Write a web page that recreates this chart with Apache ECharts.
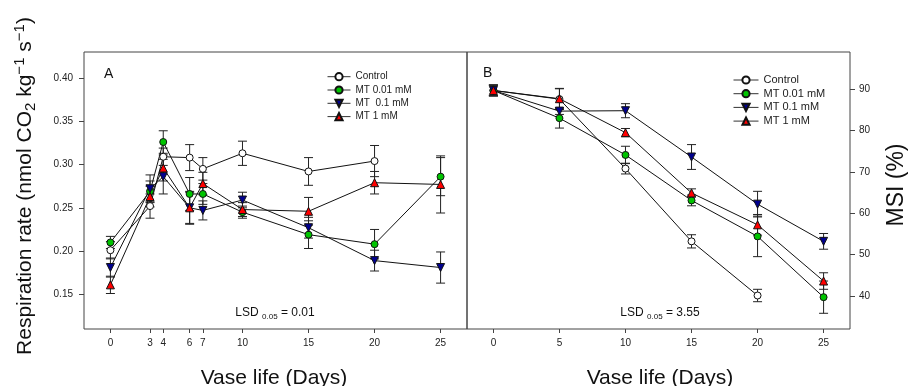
<!DOCTYPE html>
<html>
<head>
<meta charset="utf-8">
<script src="https://cdn.jsdelivr.net/npm/echarts@6/dist/echarts.min.js"></script>
<style>
  html, body { margin: 0; padding: 0; background: #fff; }
  #chart { width: 908px; height: 386px; }
</style>
</head>
<body>
<div id="chart"></div>
<script>
// panel A: respiration rate
const daysA = [0, 3, 4, 6, 7, 10, 15, 20, 25];
const controlA = [0.201, 0.252, 0.309, 0.308, 0.295, 0.313, 0.292, 0.304, null];
const controlAErr = [0.010, 0.014, 0.010, 0.015, 0.013, 0.014, 0.016, 0.018, null];
const mt001A = [0.210, 0.269, 0.326, 0.266, 0.266, 0.245, 0.219, 0.208, 0.286];
const mt001AErr = [0.007, 0.012, 0.013, 0.019, 0.012, 0.007, 0.016, 0.017, 0.022];
const mt01A = [0.181, 0.272, 0.286, 0.250, 0.247, 0.259, 0.227, 0.189, 0.181];
const mt01AErr = [0.011, 0.016, 0.020, 0.018, 0.011, 0.009, 0.012, 0.012, 0.018];
const mt1A = [0.161, 0.263, 0.296, 0.250, 0.278, 0.248, 0.246, 0.279, 0.277];
const mt1AErr = [0.010, 0.012, 0.015, 0.019, 0.013, 0.008, 0.016, 0.013, 0.033];
const ticksXA = [0, 3, 4, 6, 7, 10, 15, 20, 25];
const ticksYA = [0.15, 0.20, 0.25, 0.30, 0.35, 0.40];

// panel B: membrane stability index
const daysB = [0, 5, 10, 15, 20, 25];
const controlB = [89.7, 87.6, 70.8, 53.2, 40.1, null];
const controlBErr = [1.3, 2.5, 1.3, 1.6, 1.5, null];
const mt001B = [89.7, 83.0, 74.1, 63.1, 54.4, 39.7];
const mt001BErr = [1.3, 2.4, 2.1, 1.3, 4.9, 3.9];
const mt01B = [89.7, 84.7, 84.8, 73.6, 62.2, 53.2];
const mt01BErr = [1.3, 0.8, 1.7, 3.0, 3.1, 1.9];
const mt1B = [89.7, 87.7, 79.5, 64.9, 57.2, 43.6];
const mt1BErr = [1.3, 2.5, 1.0, 1.0, 2.5, 2.0];
const ticksXB = [0, 5, 10, 15, 20, 25];
const ticksYB = [40, 50, 60, 70, 80, 90];

const namesA = ['Control', 'MT 0.01 mM', 'MT  0.1 mM', 'MT 1 mM'];
const namesB = ['Control', 'MT 0.01 mM', 'MT 0.1 mM', 'MT 1 mM'];

const FONT = '"Liberation Sans", Arial, sans-serif';
const styles = [
  { color: '#ffffff', symbol: 'circle', size: 7, rotate: 0 },
  { color: '#00c400', symbol: 'circle', size: 7, rotate: 0 },
  { color: '#00008f', symbol: 'triangle', size: 8, rotate: 180 },
  { color: '#ff0000', symbol: 'triangle', size: 8, rotate: 0 }
];

function pairs(xs, ys) {
  return xs.map((x, i) => [x, ys[i]]).filter(p => p[1] != null);
}
function bars(xs, ys, es) {
  return xs.map((x, i) => [x, ys[i] - es[i], ys[i] + es[i]]).filter((p, i) => ys[i] != null);
}

function errorBar(params, api) {
  const x = api.value(0);
  const lo = api.coord([x, api.value(1)]);
  const hi = api.coord([x, api.value(2)]);
  const w = 4.5;
  const st = { stroke: '#222', lineWidth: 1 };
  return {
    type: 'group',
    children: [
      { type: 'line', shape: { x1: lo[0], y1: lo[1], x2: hi[0], y2: hi[1] }, style: st },
      { type: 'line', shape: { x1: lo[0] - w, y1: lo[1], x2: lo[0] + w, y2: lo[1] }, style: st },
      { type: 'line', shape: { x1: hi[0] - w, y1: hi[1], x2: hi[0] + w, y2: hi[1] }, style: st }
    ]
  };
}

function panel(idx, names, xs, vals, errs) {
  const out = [];
  vals.forEach((v, k) => {
    out.push({
      type: 'custom',
      name: 'err' + idx + k,
      xAxisIndex: idx, yAxisIndex: idx,
      renderItem: errorBar,
      encode: { x: 0, y: [1, 2] },
      data: bars(xs, v, errs[k]),
      z: 1
    });
  });
  vals.forEach((v, k) => {
    const s = styles[k];
    out.push({
      type: 'line',
      name: names[k],
      xAxisIndex: idx, yAxisIndex: idx,
      data: pairs(xs, v),
      symbol: s.symbol,
      symbolSize: s.size,
      symbolRotate: s.rotate,
      showAllSymbol: true,
      lineStyle: { color: '#111', width: 1 },
      itemStyle: { color: s.color, borderColor: '#111', borderWidth: 1 },
      z: 3
    });
  });
  return out;
}

const axisText = { color: '#222', fontSize: 10, fontFamily: FONT };

const chart = echarts.init(document.getElementById('chart'));
chart.setOption({
  animation: false,
  backgroundColor: '#fff',
  textStyle: { fontFamily: FONT },
  grid: [
    { left: 84, top: 52, width: 383, height: 277, show: true, borderColor: '#444', borderWidth: 1 },
    { left: 467, top: 52, width: 383, height: 277, show: true, borderColor: '#444', borderWidth: 1 }
  ],
  xAxis: [
    {
      gridIndex: 0, type: 'value', min: -2, max: 27,
      axisLine: { show: false },
      axisTick: { length: 4, lineStyle: { color: '#444' }, customValues: ticksXA },
      axisLabel: Object.assign({ margin: 9, customValues: ticksXA }, axisText),
      splitLine: { show: false }
    },
    {
      gridIndex: 1, type: 'value', min: -2, max: 27,
      axisLine: { show: false },
      axisTick: { length: 4, lineStyle: { color: '#444' }, customValues: ticksXB },
      axisLabel: Object.assign({ margin: 9, customValues: ticksXB }, axisText),
      splitLine: { show: false }
    }
  ],
  yAxis: [
    {
      gridIndex: 0, type: 'value', min: 0.11, max: 0.43, position: 'left',
      axisLine: { show: false, onZero: false },
      axisTick: { show: true, length: 5, lineStyle: { color: '#444' }, customValues: ticksYA },
      axisLabel: Object.assign({ margin: 11, customValues: ticksYA, formatter: v => v.toFixed(2) }, axisText),
      splitLine: { show: false }
    },
    {
      gridIndex: 1, type: 'value', min: 32, max: 99, position: 'right',
      axisLine: { show: false, onZero: false },
      axisTick: { show: true, length: 5, lineStyle: { color: '#444' }, customValues: ticksYB },
      axisLabel: Object.assign({ margin: 9, customValues: ticksYB }, axisText),
      splitLine: { show: false }
    }
  ],
  legend: [
    {
      data: namesA, orient: 'vertical', left: 327, top: 70.7, padding: 0,
      itemWidth: 23, itemHeight: 9, itemGap: 1.3, selectedMode: false,
      lineStyle: { width: 1, color: '#333' },
      textStyle: { fontSize: 10, lineHeight: 12, color: '#222', fontFamily: FONT }
    },
    {
      data: namesB, orient: 'vertical', left: 733, top: 74, padding: 0,
      itemWidth: 25, itemHeight: 9, itemGap: 1.7, selectedMode: false,
      lineStyle: { width: 1, color: '#333' },
      textStyle: { fontSize: 11, lineHeight: 12, color: '#222', fontFamily: FONT }
    }
  ],
  graphic: [
    { type: 'text', x: 104, y: 74, style: { text: 'A', fontSize: 14, fill: '#111', font: '14px ' + FONT, verticalAlign: 'middle' } },
    { type: 'text', x: 483, y: 73, style: { text: 'B', fontSize: 14, fill: '#111', font: '14px ' + FONT, verticalAlign: 'middle' } },
    {
      type: 'text', x: 275, y: 313,
      style: {
        text: '{m|LSD }{s|0.05}{m| = 0.01}', align: 'center', verticalAlign: 'middle',
        rich: {
          m: { fontSize: 12, lineHeight: 15, fill: '#111', fontFamily: FONT },
          s: { fontSize: 8, lineHeight: 9, fill: '#111', fontFamily: FONT, verticalAlign: 'bottom' }
        }
      }
    },
    {
      type: 'text', x: 660, y: 313,
      style: {
        text: '{m|LSD }{s|0.05}{m| = 3.55}', align: 'center', verticalAlign: 'middle',
        rich: {
          m: { fontSize: 12, lineHeight: 15, fill: '#111', fontFamily: FONT },
          s: { fontSize: 8, lineHeight: 9, fill: '#111', fontFamily: FONT, verticalAlign: 'bottom' }
        }
      }
    },
    {
      type: 'text', x: 25, y: 186, rotation: Math.PI / 2,
      style: {
        text: '{m|Respiration rate (nmol CO}{b|2}{m| kg}{t|\u22121}{m| s}{t|\u22121}{m|)}',
        align: 'center', verticalAlign: 'middle',
        rich: {
          m: { fontSize: 21, lineHeight: 26, fill: '#111', fontFamily: FONT },
          b: { fontSize: 15, lineHeight: 15, fill: '#111', fontFamily: FONT, verticalAlign: 'bottom' },
          t: { fontSize: 15, lineHeight: 15, fill: '#111', fontFamily: FONT, verticalAlign: 'top' }
        }
      }
    },
    {
      type: 'text', x: 897, y: 185, rotation: Math.PI / 2,
      style: { text: 'MSI (%)', font: '23px ' + FONT, fill: '#111', align: 'center', verticalAlign: 'middle' }
    },
    {
      type: 'text', x: 274, y: 378,
      style: { text: 'Vase life (Days)', font: '21px ' + FONT, fill: '#111', align: 'center', verticalAlign: 'middle' }
    },
    {
      type: 'text', x: 660, y: 378,
      style: { text: 'Vase life (Days)', font: '21px ' + FONT, fill: '#111', align: 'center', verticalAlign: 'middle' }
    }
  ],
  series: [].concat(
    panel(0, namesA, daysA, [controlA, mt001A, mt01A, mt1A], [controlAErr, mt001AErr, mt01AErr, mt1AErr]),
    panel(1, namesB, daysB, [controlB, mt001B, mt01B, mt1B], [controlBErr, mt001BErr, mt01BErr, mt1BErr])
  )
});
</script>
</body>
</html>
